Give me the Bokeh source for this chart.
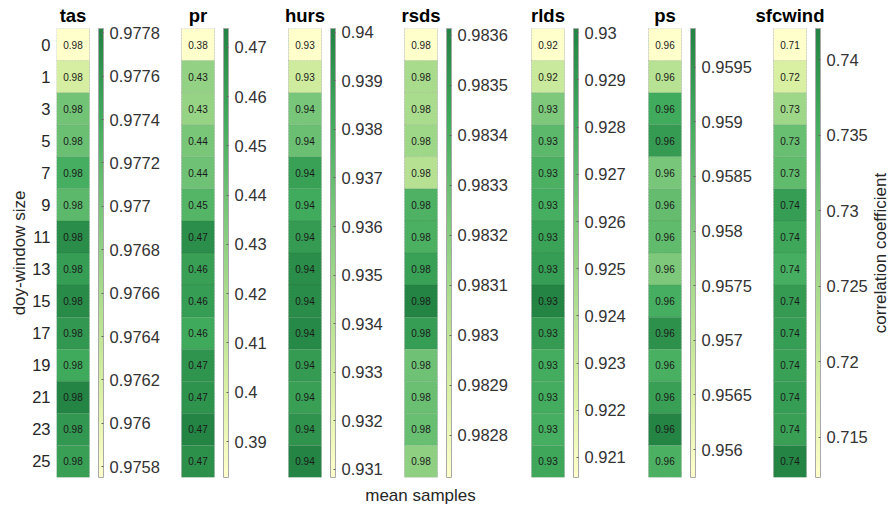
import math
from bokeh.plotting import figure
from bokeh.models import (FactorRange, Range1d, ColorBar, LinearColorMapper, FixedTicker,
                          Label, CustomJSTickFormatter, ColumnDataSource, BoxAnnotation, LinearAxis)
from bokeh.core.properties import value
from bokeh.embed import file_html
from bokeh.resources import INLINE

# ---------------- data ----------------
window_sizes = ["0", "1", "3", "5", "7", "9", "11", "13", "15", "17", "19", "21", "23", "25"]
variables = ["tas", "pr", "hurs", "rsds", "rlds", "ps", "sfcwind"]

tas = [0.97575, 0.97621, 0.97703, 0.97710, 0.97736, 0.97720, 0.97772,
       0.97755, 0.97774, 0.97761, 0.97741, 0.97782, 0.97761, 0.97753]
pr = [0.3827, 0.428, 0.427, 0.437, 0.440, 0.449, 0.469,
      0.461, 0.462, 0.456, 0.466, 0.467, 0.4738, 0.468]
hurs = [0.930835, 0.93315, 0.93638, 0.93684, 0.93869, 0.93823, 0.93897,
        0.93961, 0.93971, 0.93980, 0.93897, 0.93878, 0.93934, 0.940076]
rsds = [0.982716, 0.983093, 0.983084, 0.983120, 0.983039, 0.983389, 0.983398,
        0.983478, 0.983613, 0.983496, 0.983281, 0.983299, 0.983308, 0.983182]
rlds = [0.920576, 0.923145, 0.926095, 0.927237, 0.927807, 0.927997, 0.928569,
        0.928854, 0.930091, 0.928949, 0.928093, 0.928093, 0.927997, 0.928378]
ps = [0.955744, 0.957183, 0.959032, 0.959361, 0.958210, 0.958498, 0.958539,
      0.958128, 0.958950, 0.959566, 0.958909, 0.959279, 0.959854, 0.958868]
sfcwind = [0.712331, 0.71828, 0.725715, 0.731961, 0.732556, 0.738206, 0.736719,
           0.735529, 0.738503, 0.738206, 0.737612, 0.738206, 0.737909, 0.742073]

tas_ticks = [0.9758, 0.9760, 0.9762, 0.9764, 0.9766, 0.9768, 0.9770, 0.9772, 0.9774, 0.9776, 0.9778]
pr_ticks = [0.39, 0.40, 0.41, 0.42, 0.43, 0.44, 0.45, 0.46, 0.47]
hurs_ticks = [0.931, 0.932, 0.933, 0.934, 0.935, 0.936, 0.937, 0.938, 0.939, 0.940]
rsds_ticks = [0.9828, 0.9829, 0.9830, 0.9831, 0.9832, 0.9833, 0.9834, 0.9835, 0.9836]
rlds_ticks = [0.921, 0.922, 0.923, 0.924, 0.925, 0.926, 0.927, 0.928, 0.929, 0.930]
ps_ticks = [0.9560, 0.9565, 0.9570, 0.9575, 0.9580, 0.9585, 0.9590, 0.9595]
sfcwind_ticks = [0.715, 0.720, 0.725, 0.730, 0.735, 0.740]

series = [tas, pr, hurs, rsds, rlds, ps, sfcwind]
ticks = [tas_ticks, pr_ticks, hurs_ticks, rsds_ticks, rlds_ticks, ps_ticks, sfcwind_ticks]

x_label = "mean samples"
y_label = "doy-window size"
c_label = "correlation coefficient"

# ---------------- layout / style ----------------
W, H = 891, 509
FRAME_L, FRAME_T, FRAME_B = 56, 28, 32
FRAME_W = W - FRAME_L
FRAME_H = H - FRAME_T - FRAME_B
col_left = [0, 125, 232, 348, 475, 592, 717]
CELL_W = 33
BAR_OFF = 42
BAR_W = 5
XLABEL_X = 364
FONT = "Liberation Sans"

anchors = ["#ffffcc", "#d9f0a3", "#addd8e", "#78c679", "#41ab5d", "#238443"]


def hex2rgb(h):
    return tuple(int(h[i:i + 2], 16) for i in (1, 3, 5))


def make_palette(n=256):
    cols = [hex2rgb(a) for a in anchors]
    out = []
    for i in range(n):
        t = i / (n - 1) * (len(cols) - 1)
        k = min(int(math.floor(t)), len(cols) - 2)
        f = t - k
        c = [round(cols[k][j] + (cols[k + 1][j] - cols[k][j]) * f) for j in range(3)]
        out.append("#%02x%02x%02x" % tuple(c))
    return out


palette = make_palette()

p = figure(width=W, height=H, output_backend="svg", toolbar_location=None, title=None,
           x_range=Range1d(0, FRAME_W), y_range=FactorRange(factors=list(reversed(window_sizes))),
           x_axis_location=None, min_border_left=FRAME_L, min_border_right=0,
           min_border_top=FRAME_T, min_border_bottom=FRAME_B)
p.outline_line_color = None
p.grid.visible = False
p.background_fill_color = "white"

ax = p.yaxis[0]
ax.axis_line_color = None
ax.major_tick_line_color = None
ax.major_tick_out = 0
ax.major_tick_in = 0
ax.major_label_standoff = 6
ax.major_label_text_font = FONT
ax.major_label_text_font_size = "16.5px"
ax.major_label_text_color = "#262626"
ax.axis_label = y_label
ax.axis_label_text_font = FONT
ax.axis_label_text_font_size = "17px"
ax.axis_label_text_font_style = "normal"
ax.axis_label_text_color = "#262626"
ax.axis_label_standoff = 0

centers = [l + CELL_W / 2 for l in col_left]

# variable names above each column (through an axis)
top_axis = LinearAxis(ticker=FixedTicker(ticks=centers),
                      formatter=CustomJSTickFormatter(args=dict(names=variables, centers=centers),
                                                      code="""
const i = centers.findIndex(c => Math.abs(c - tick) < 0.01);
return i >= 0 ? names[i] : "";"""),
                      axis_line_color=None, major_tick_line_color=None, minor_tick_line_color=None,
                      major_tick_out=0, major_tick_in=0, major_label_standoff=3,
                      major_label_text_font=FONT, major_label_text_font_size="18.5px",
                      major_label_text_font_style="bold", major_label_text_color="#000000")
p.add_layout(top_axis, "above")

bottom_axis = LinearAxis(ticker=FixedTicker(ticks=[XLABEL_X]),
                         formatter=CustomJSTickFormatter(args=dict(lbl=x_label), code="return lbl;"),
                         axis_line_color=None, major_tick_line_color=None, minor_tick_line_color=None,
                         major_tick_out=0, major_tick_in=0, major_label_standoff=8,
                         major_label_text_font=FONT, major_label_text_font_size="17px",
                         major_label_text_color="#262626")
p.add_layout(bottom_axis, "below")

fmt = CustomJSTickFormatter(code="return String(parseFloat(tick.toFixed(6)));")

for name, vals, tk, left in zip(variables, series, ticks, col_left):
    mapper = LinearColorMapper(palette=palette, low=min(vals), high=max(vals))
    src = ColumnDataSource(dict(x=[left + CELL_W / 2] * len(vals), y=window_sizes, v=vals,
                                label=["%.2f" % v for v in vals]))
    p.rect("x", "y", width=CELL_W, height=1, source=src,
           fill_color={"field": "v", "transform": mapper},
           line_color="#2a2a2a", line_alpha=0.18, line_dash="1 2", line_width=1)
    p.text("x", "y", text="label", source=src, text_font=value(FONT), text_font_size="10px",
           text_align="center", text_baseline="middle", text_color="#1a1a1a")
    p.add_layout(BoxAnnotation(left=left, right=left + CELL_W, fill_alpha=0,
                               line_color="#a8a8a8", line_width=1))
    cb = ColorBar(color_mapper=mapper, ticker=FixedTicker(ticks=tk), formatter=fmt,
                  orientation="vertical", width=BAR_W, height=FRAME_H,
                  location=(left + BAR_OFF, 0), padding=0, margin=0,
                  background_fill_alpha=0, border_line_color=None,
                  bar_line_color="#a8a8a8", bar_line_width=1,
                  major_label_text_font=FONT, major_label_text_font_size="16.5px",
                  major_label_text_color="#333333", label_standoff=6,
                  major_tick_in=2, major_tick_out=0, major_tick_line_color="#666666",
                  minor_tick_line_color=None)
    p.add_layout(cb)

p.add_layout(Label(x=FRAME_W - 11, y=FRAME_H / 2, y_units="screen", text=c_label,
                   angle=math.pi / 2, text_font=FONT, text_font_size="17px", text_align="center",
                   text_baseline="middle", text_color="#262626"))

open("out.html", "w").write(file_html(p, INLINE))
